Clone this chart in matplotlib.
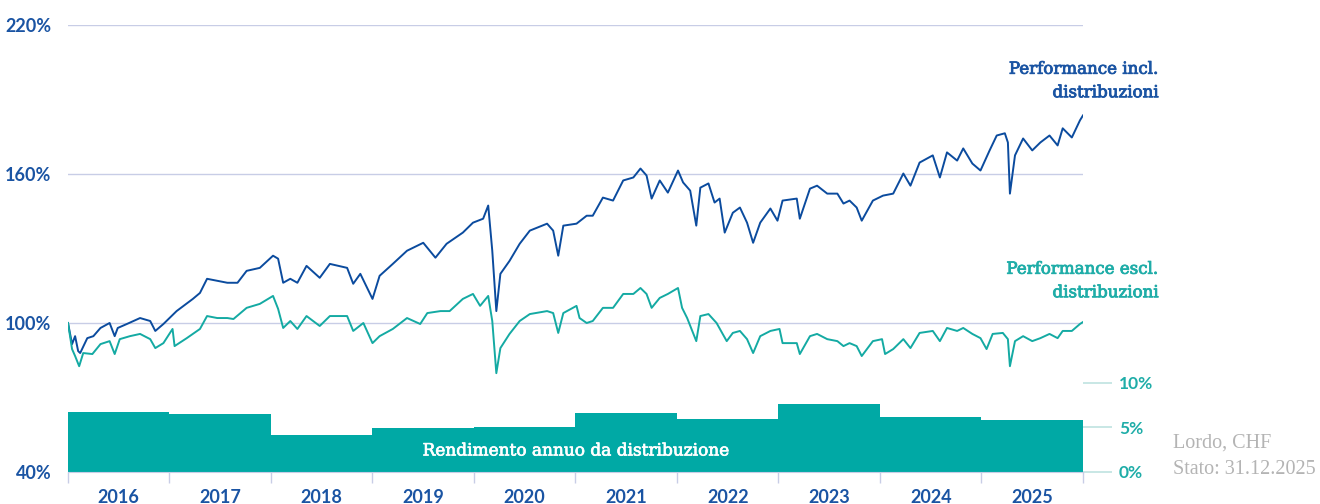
import matplotlib
matplotlib.use("Agg")
import matplotlib.pyplot as plt
import matplotlib.patheffects as pe

# ---------------- data ----------------
incl_t = [2016.00, 2016.04, 2016.07, 2016.10, 2016.12, 2016.19, 2016.25, 2016.32, 2016.41, 2016.46,
          2016.49, 2016.58, 2016.71, 2016.81, 2016.86, 2016.94, 2017.07, 2017.23, 2017.30, 2017.37,
          2017.47, 2017.57, 2017.67, 2017.76, 2017.89, 2018.02, 2018.07, 2018.12, 2018.19, 2018.26,
          2018.35, 2018.48, 2018.58, 2018.75, 2018.81, 2018.88, 2019.00, 2019.07, 2019.20, 2019.34,
          2019.50, 2019.62, 2019.73, 2019.89, 2019.99, 2020.09, 2020.14, 2020.18, 2020.22, 2020.26,
          2020.35, 2020.45, 2020.55, 2020.72, 2020.78, 2020.83, 2020.88, 2021.01, 2021.11, 2021.17,
          2021.27, 2021.37, 2021.47, 2021.57, 2021.64, 2021.70, 2021.75, 2021.83, 2021.91, 2022.01,
          2022.06, 2022.13, 2022.19, 2022.23, 2022.31, 2022.37, 2022.42, 2022.47, 2022.55, 2022.62,
          2022.69, 2022.75, 2022.82, 2022.92, 2022.99, 2023.04, 2023.18, 2023.21, 2023.31, 2023.38,
          2023.48, 2023.58, 2023.64, 2023.70, 2023.77, 2023.82, 2023.93, 2024.03, 2024.13, 2024.23,
          2024.30, 2024.39, 2024.52, 2024.59, 2024.66, 2024.76, 2024.82, 2024.91, 2024.99, 2025.08,
          2025.15, 2025.23, 2025.26, 2025.28, 2025.33, 2025.41, 2025.50, 2025.58, 2025.67, 2025.75,
          2025.80, 2025.89, 2025.97, 2026.00]
incl_v = [100.0, 91.5, 94.7, 88.7, 87.9, 93.9, 94.7, 98.0, 100.0, 94.7,
          98.0, 99.6, 102.0, 100.8, 96.8, 99.6, 104.8, 109.7, 112.1, 117.8,
          117.0, 116.2, 116.2, 121.0, 122.2, 127.1, 125.9, 116.2, 117.8, 116.2,
          123.0, 118.2, 123.8, 122.2, 115.8, 119.8, 109.7, 119.0, 123.8, 129.1,
          132.3, 126.3, 131.9, 136.4, 140.4, 142.0, 147.3, 129.1, 104.8, 119.8,
          125.0, 131.9, 137.2, 140.0, 137.2, 127.1, 139.2, 140.0, 143.2, 143.2,
          150.5, 149.3, 157.4, 158.6, 162.2, 159.4, 150.1, 157.4, 152.5, 161.4,
          156.6, 153.3, 139.2, 154.5, 156.2, 148.5, 150.1, 136.4, 144.4, 146.5,
          140.4, 132.3, 140.4, 146.1, 141.2, 149.3, 150.1, 142.0, 154.1, 155.3,
          152.1, 152.1, 148.1, 149.3, 146.5, 141.2, 149.3, 151.3, 152.1, 160.2,
          155.3, 164.6, 167.5, 158.6, 168.7, 165.4, 170.3, 164.2, 161.4, 169.5,
          175.5, 176.4, 172.7, 152.1, 167.5, 174.3, 169.5, 172.7, 175.5, 171.5,
          178.4, 174.7, 181.6, 183.6]

excl_t = [2016.00, 2016.04, 2016.07, 2016.11, 2016.15, 2016.24, 2016.32, 2016.41, 2016.46, 2016.51,
          2016.61, 2016.71, 2016.81, 2016.86, 2016.94, 2017.03, 2017.05, 2017.17, 2017.30, 2017.37,
          2017.47, 2017.57, 2017.63, 2017.76, 2017.89, 2018.02, 2018.07, 2018.12, 2018.19, 2018.26,
          2018.35, 2018.48, 2018.58, 2018.75, 2018.81, 2018.91, 2019.00, 2019.07, 2019.20, 2019.34,
          2019.47, 2019.54, 2019.67, 2019.76, 2019.89, 2019.99, 2020.06, 2020.14, 2020.18, 2020.22,
          2020.26, 2020.35, 2020.45, 2020.55, 2020.72, 2020.78, 2020.83, 2020.88, 2021.01, 2021.04,
          2021.11, 2021.17, 2021.27, 2021.37, 2021.47, 2021.57, 2021.64, 2021.70, 2021.75, 2021.83,
          2021.91, 2022.01, 2022.05, 2022.10, 2022.19, 2022.23, 2022.31, 2022.39, 2022.45, 2022.49,
          2022.55, 2022.62, 2022.69, 2022.75, 2022.82, 2022.92, 2023.01, 2023.04, 2023.18, 2023.21,
          2023.31, 2023.38, 2023.48, 2023.58, 2023.64, 2023.70, 2023.77, 2023.82, 2023.93, 2024.02,
          2024.05, 2024.13, 2024.23, 2024.30, 2024.39, 2024.52, 2024.59, 2024.66, 2024.76, 2024.82,
          2024.91, 2024.99, 2025.05, 2025.11, 2025.21, 2025.26, 2025.28, 2025.33, 2025.41, 2025.50,
          2025.58, 2025.67, 2025.75, 2025.80, 2025.89, 2025.97, 2026.00]
excl_v = [100.0, 89.5, 86.7, 82.6, 87.9, 87.5, 91.5, 92.7, 87.5, 93.5,
          94.7, 95.6, 93.5, 89.9, 91.9, 97.6, 90.7, 93.9, 97.6, 102.8,
          102.0, 102.0, 101.6, 106.1, 107.7, 110.9, 105.7, 98.0, 100.8, 97.6,
          102.8, 98.8, 102.8, 102.8, 96.8, 100.0, 91.9, 94.7, 97.6, 102.0,
          99.6, 104.0, 104.8, 104.8, 109.7, 111.7, 106.9, 110.9, 100.8, 79.8,
          89.9, 95.6, 100.8, 103.6, 104.8, 104.0, 96.0, 104.0, 106.9, 102.0,
          100.0, 100.8, 106.1, 106.1, 111.7, 111.7, 114.1, 111.7, 106.1, 110.1,
          111.7, 114.1, 106.1, 102.0, 92.7, 102.8, 103.6, 100.0, 95.6, 92.7,
          96.0, 96.8, 93.5, 87.9, 94.7, 96.8, 97.6, 91.9, 91.9, 87.5,
          94.7, 95.6, 93.5, 92.7, 90.7, 91.9, 90.7, 86.7, 92.7, 93.5,
          87.5, 89.5, 93.5, 89.9, 96.0, 96.8, 92.7, 98.0, 96.8, 98.0,
          95.6, 93.9, 89.5, 95.6, 96.0, 93.5, 82.6, 92.7, 94.7, 92.7,
          93.9, 95.6, 93.9, 96.8, 96.8, 99.6, 100.4]

years = [2016, 2017, 2018, 2019, 2020, 2021, 2022, 2023, 2024, 2025]
dist_yield = [6.7, 6.5, 4.1, 4.9, 5.0, 6.6, 5.9, 7.6, 6.1, 5.8]

left_ticks = [40, 100, 160, 220]
grid_levels = [100, 160, 220]
right_ticks = [0, 5, 10]

# ---------------- style ----------------
BLUE = "#0b4b9e"
TEAL = "#14aaa3"
BAR = "#00a9a5"
GRID = "#c8cde6"
TXT_BLUE = "#1a54a3"
TXT_TEAL = "#1fada8"
GRAY = "#b4b4b4"

W, H = 1320, 504
fig = plt.figure(figsize=(W / 100, H / 100), dpi=100)
x0, x1, y0, y1 = 68, 1083, 25, 472
ax = fig.add_axes([x0 / W, 1 - y1 / H, (x1 - x0) / W, (y1 - y0) / H])
ax2 = ax.twinx()
ax.set_zorder(ax2.get_zorder() + 1)
ax.patch.set_visible(False)


def semibold(color, w=0.6):
    return [pe.withStroke(linewidth=w, foreground=color)]


# bars on secondary axis
ax2.bar([y + 0.5 for y in years], dist_yield, width=1.0, color=BAR, linewidth=0)
ax2.set_ylim(0, 50)
ax2.set_yticks(right_ticks)
ax2.set_yticklabels([f"{t}%" for t in right_ticks])
ax2.tick_params(axis="y", length=21, width=1.2, color="#bfe3e0", pad=5,
                labelcolor=TXT_TEAL, labelsize=12.5)
for lab in ax2.get_yticklabels():
    lab.set_fontfamily("Lato")
    lab.set_fontweight("bold")
ax2.text(2021.0, 2.35, "Rendimento annuo da distribuzione", color="white",
         fontsize=12.2, family="DejaVu Serif", ha="center", va="center",
         path_effects=semibold("white", 0.5))

# lines
for g in grid_levels:
    ax.axhline(g, color=GRID, lw=1.0, zorder=1)
ax.plot(incl_t, incl_v, color=BLUE, lw=1.4, zorder=3)
ax.plot(excl_t, excl_v, color=TEAL, lw=1.4, zorder=3)

ax.set_xlim(2016, 2026)
ax.set_ylim(40, 220)
ax.set_yticks(left_ticks)
ax.set_yticklabels([f"{t}%" for t in left_ticks])
ax.tick_params(axis="y", length=0, pad=12, labelcolor=TXT_BLUE, labelsize=13)
for lab in ax.get_yticklabels():
    lab.set_fontfamily("Lato")
    lab.set_fontweight("bold")

ax.set_xticks(list(range(2016, 2027)))
ax.set_xticklabels([])
ax.set_xticks([y + 0.5 for y in years], minor=True)
ax.set_xticklabels([str(y) for y in years], minor=True)
ax.tick_params(axis="x", which="major", length=8, width=1.0, color=GRID)
ax.tick_params(axis="x", which="minor", length=0, pad=12, labelcolor=TXT_BLUE, labelsize=13)
for lab in ax.get_xticklabels(minor=True):
    lab.set_fontfamily("Lato")
    lab.set_fontweight("bold")

for a in (ax, ax2):
    for s in a.spines.values():
        s.set_visible(False)
ax.spines["bottom"].set_visible(True)
ax.spines["bottom"].set_color(GRID)


# annotations
def fx(px):
    return px / W


def fy(py):
    return 1 - py / H


fig.text(fx(1158), fy(81), "Performance incl.\ndistribuzioni", color=TXT_BLUE,
         fontsize=12, family="DejaVu Serif", ha="right", va="center",
         linespacing=1.5, multialignment="right", path_effects=semibold(TXT_BLUE))
fig.text(fx(1158), fy(281), "Performance escl.\ndistribuzioni", color=TXT_TEAL,
         fontsize=12, family="DejaVu Serif", ha="right", va="center",
         linespacing=1.5, multialignment="right", path_effects=semibold(TXT_TEAL))
fig.text(fx(1173), fy(443), "Lordo, CHF", color=GRAY, fontsize=14.5,
         family="Liberation Serif", ha="left", va="center")
fig.text(fx(1173), fy(470), "Stato: 31.12.2025", color=GRAY, fontsize=14.5,
         family="Liberation Serif", ha="left", va="center")

fig.savefig("out.png", dpi=100)
